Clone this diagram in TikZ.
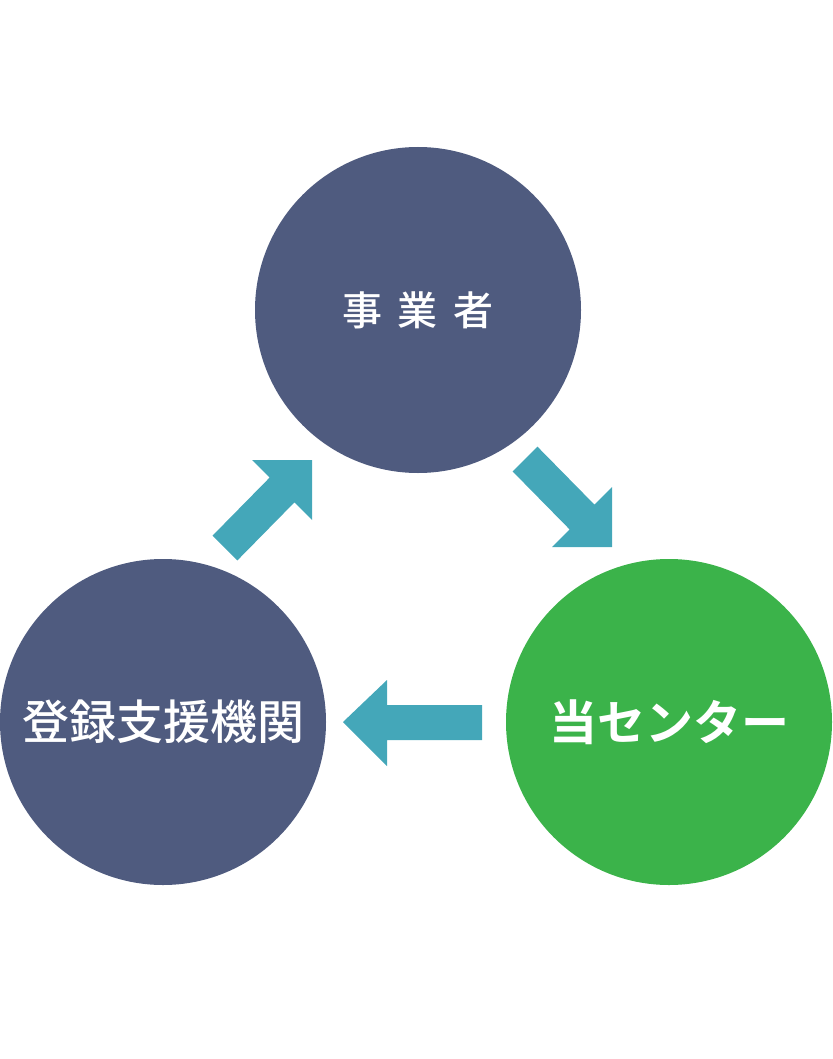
\documentclass[tikz,border=0pt]{standalone}
\usepackage{fontspec}
\newfontfamily\cjk{Noto Sans CJK JP Medium}
\newfontfamily\cjkb{Noto Sans CJK JP Bold}
\definecolor{navy}{HTML}{4F5B7F}
\definecolor{grn}{HTML}{3BB34A}
\definecolor{teal2}{HTML}{44A7B9}
\begin{document}
\begin{tikzpicture}[x=1pt,y=-1pt,
  circ/.style={circle,minimum size=326pt,inner sep=0pt,text=white},
  blk/.style={fill=teal2,draw=none}]
\useasboundingbox (0,0) rectangle (832,1059);
\node[circ,fill=navy] (top) at (418,310) {\cjk\fontsize{40}{46}\selectfont 事\hspace{0.4em}業\hspace{0.4em}者};
\node[circ,fill=navy] (left) at (163,722) {\cjk\fontsize{47}{52}\selectfont 登録支援機関};
\node[circ,fill=grn] (right) at (669,722) {\cjkb\fontsize{48}{52}\selectfont 当センター};
\fill[blk] (482,705)--(387,705)--(387,680)--(343,722)--(387,766)--(387,740)--(482,740)--cycle;
\fill[blk] (212.6,535.6)--(269.6,477.6)--(252,460)--(312,460)--(312,520)--(294.4,502.4)--(237.4,560.4)--cycle;
\fill[blk] (537.4,446.6)--(594.4,504.6)--(612,487)--(612,547)--(552,547)--(569.6,529.4)--(512.6,471.4)--cycle;
\end{tikzpicture}
\end{document}
